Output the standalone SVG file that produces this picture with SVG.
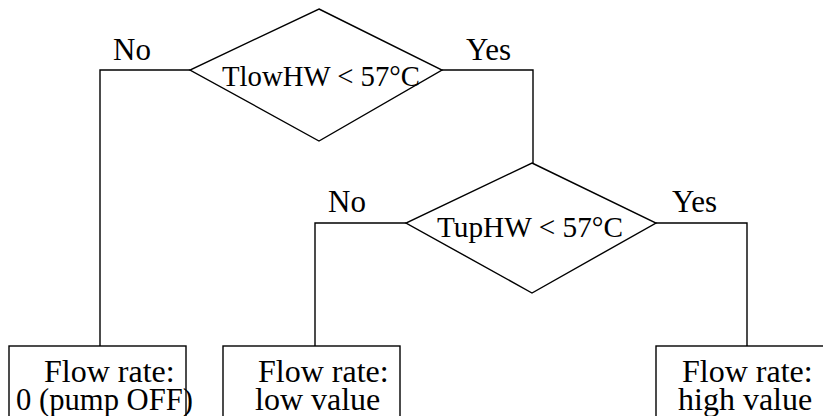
<svg xmlns="http://www.w3.org/2000/svg" width="823" height="416" viewBox="0 0 823 416">
<style>
.s{fill:none;stroke:#000;stroke-width:1.4}
.n{fill:#fff;stroke:#000;stroke-width:1.4}
text{font-family:"Liberation Serif","Times New Roman",serif;font-size:32px;fill:#000}
.l{font-size:31px}
.d{font-size:30px}
</style>
<rect width="823" height="416" fill="#fff"/>
<g id="connectors">
<polyline class="s" points="190,70 100,70 100,346"/>
<polyline class="s" points="442,70 533,70 533,163"/>
<polyline class="s" points="406,223 315,223 315,346"/>
<polyline class="s" points="656,223 747,223 747,346"/>
<text class="l" x="113" y="60">No</text>
<text class="l" x="466" y="60">Yes</text>
<text class="l" x="328" y="212">No</text>
<text class="l" x="672" y="212">Yes</text>
</g>
<g id="d1">
<polygon class="n" points="319,9 442,70 319,141 190,70"/>
<text class="d" x="222" y="86" textLength="198" lengthAdjust="spacingAndGlyphs">TlowHW &lt; 57°C</text>
</g>
<g id="d2">
<polygon class="n" points="532,163 656,223 532,293 406,223"/>
<text class="d" x="437" y="237" textLength="186" lengthAdjust="spacingAndGlyphs">TupHW &lt; 57°C</text>
</g>
<g id="b1">
<rect class="n" x="9" y="346" width="177" height="90"/>
<text x="44" y="382">Flow rate:</text>
<text x="16" y="410" textLength="177" lengthAdjust="spacingAndGlyphs">0 (pump OFF)</text>
</g>
<g id="b2">
<rect class="n" x="223" y="346" width="177" height="90"/>
<text x="258" y="382">Flow rate:</text>
<text x="255" y="410">low value</text>
</g>
<g id="b3">
<rect class="n" x="656" y="346" width="177" height="90"/>
<text x="682" y="382">Flow rate:</text>
<text x="678" y="410">high value</text>
</g>
</svg>
